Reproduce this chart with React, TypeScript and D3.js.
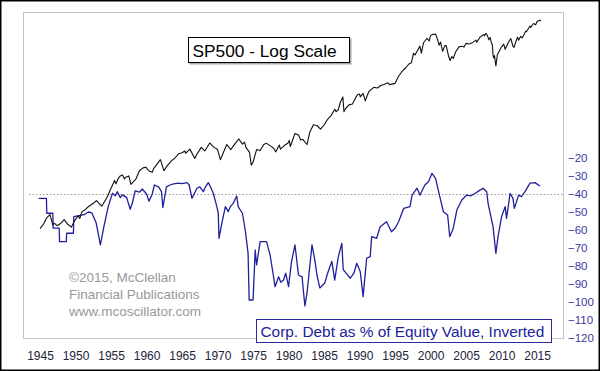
import React, { useEffect, useRef } from "react";
import * as d3 from "d3";

// S&P 500, approximate closes [year, index]
const spx: [number, number][] = [
  [1945.0, 13.5], [1945.5, 15.1], [1945.9, 17.4], [1946.4, 19.0], [1946.8, 14.8],
  [1947.0, 15.4], [1947.4, 14.5], [1947.9, 15.3], [1948.4, 16.8], [1948.9, 15.0],
  [1949.4, 14.0], [1949.9, 16.5], [1950.4, 18.5], [1950.6, 17.3], [1950.9, 20.4],
  [1951.4, 21.5], [1951.8, 23.0], [1952.5, 25.0], [1952.95, 26.6], [1953.7, 23.3],
  [1954.0, 25.5], [1954.5, 29.5], [1955.0, 35.9], [1955.5, 43.5], [1955.7, 40.0],
  [1956.0, 45.5], [1956.3, 48.5], [1956.6, 49.7], [1956.9, 45.0], [1957.0, 46.7],
  [1957.5, 48.5], [1957.8, 39.5], [1958.5, 45.0], [1959.0, 55.0], [1959.5, 59.0],
  [1959.9, 60.0], [1960.3, 55.0], [1960.8, 53.0], [1961.0, 58.0], [1961.5, 65.0],
  [1961.95, 72.0], [1962.45, 55.0], [1962.9, 62.0], [1963.5, 70.0], [1964.0, 75.0],
  [1964.5, 83.0], [1965.0, 85.0], [1965.4, 89.0], [1965.5, 84.0], [1966.1, 93.0],
  [1966.8, 74.0], [1967.0, 80.0], [1967.7, 97.0], [1968.2, 89.0], [1968.9, 108.0],
  [1969.5, 97.0], [1970.0, 92.0], [1970.4, 72.0], [1971.0, 92.0], [1971.3, 104.0],
  [1971.85, 92.0], [1972.5, 107.0], [1973.0, 119.0], [1973.5, 105.0], [1973.8, 110.0],
  [1974.0, 97.0], [1974.5, 86.0], [1974.75, 63.0], [1975.0, 68.0], [1975.5, 92.0],
  [1976.0, 90.0], [1976.5, 104.0], [1976.9, 107.0], [1977.5, 100.0], [1977.9, 95.0],
  [1978.2, 87.0], [1978.7, 103.0], [1978.85, 93.0], [1979.5, 103.0], [1979.9, 107.0],
  [1980.1, 115.0], [1980.25, 99.0], [1980.9, 136.0], [1981.4, 131.0], [1981.7, 116.0],
  [1982.0, 118.0], [1982.6, 104.0], [1983.0, 141.0], [1983.5, 168.0], [1984.0, 165.0],
  [1984.5, 151.0], [1985.0, 167.0], [1985.5, 192.0], [1986.0, 211.0], [1986.5, 245.0],
  [1986.7, 231.0], [1987.0, 242.0], [1987.3, 290.0], [1987.65, 330.0], [1987.8, 230.0],
  [1988.0, 247.0], [1988.5, 272.0], [1989.0, 278.0], [1989.5, 330.0], [1989.75, 350.0],
  [1990.0, 353.0], [1990.1, 330.0], [1990.5, 360.0], [1990.8, 300.0], [1991.0, 330.0],
  [1991.3, 375.0], [1992.0, 417.0], [1992.5, 410.0], [1993.0, 436.0], [1993.5, 450.0],
  [1994.0, 466.0], [1994.2, 445.0], [1995.0, 459.0], [1995.5, 545.0], [1996.0, 615.0],
  [1996.5, 670.0], [1997.0, 740.0], [1997.3, 757.0], [1997.6, 950.0], [1997.8, 914.0],
  [1998.0, 970.0], [1998.5, 1133.0], [1998.7, 957.0], [1999.0, 1229.0], [1999.5, 1372.0],
  [1999.8, 1282.0], [2000.0, 1469.0], [2000.2, 1498.0], [2000.7, 1520.0], [2001.0, 1320.0],
  [2001.2, 1160.0], [2001.4, 1250.0], [2001.7, 1000.0], [2002.0, 1148.0], [2002.2, 1147.0],
  [2002.55, 880.0], [2002.75, 800.0], [2003.0, 880.0], [2003.2, 840.0], [2003.5, 975.0],
  [2004.0, 1112.0], [2004.5, 1130.0], [2004.7, 1105.0], [2005.0, 1212.0], [2005.5, 1191.0],
  [2006.0, 1248.0], [2006.4, 1310.0], [2006.5, 1245.0], [2007.0, 1418.0], [2007.5, 1500.0],
  [2007.6, 1455.0], [2007.8, 1549.0], [2008.0, 1468.0], [2008.2, 1320.0], [2008.4, 1400.0],
  [2008.5, 1280.0], [2008.7, 1165.0], [2008.8, 900.0], [2008.9, 850.0], [2009.0, 900.0],
  [2009.2, 700.0], [2009.4, 920.0], [2010.0, 1115.0], [2010.3, 1187.0], [2010.5, 1050.0],
  [2011.0, 1258.0], [2011.3, 1360.0], [2011.6, 1130.0], [2011.75, 1100.0], [2012.0, 1258.0],
  [2012.25, 1408.0], [2012.4, 1310.0], [2012.7, 1440.0], [2012.9, 1380.0], [2013.0, 1426.0],
  [2013.4, 1630.0], [2013.5, 1606.0], [2014.0, 1848.0], [2014.1, 1780.0], [2014.5, 1960.0],
  [2014.8, 1900.0], [2015.0, 2059.0], [2015.35, 2120.0], [2015.55, 2085.0],
];

// corporate debt as % of equity value, inverted [year, value]
const debt: [number, number][] = [
  [1944.8, -42.4], [1945.9, -42.4], [1945.95, -50.7], [1946.8, -50.7], [1946.85, -59],
  [1947.7, -59], [1947.75, -66.5], [1948.7, -66.5], [1948.75, -61.8], [1949.7, -61.8],
  [1949.75, -52.6], [1950.5, -52], [1951.2, -51.5], [1951.8, -50], [1952.3, -50.5],
  [1952.9, -56], [1953.5, -68.3], [1954.0, -58], [1954.6, -47], [1955.2, -39.6],
  [1955.6, -41], [1955.9, -38.7], [1956.3, -42], [1956.6, -40.5], [1957.2, -42],
  [1957.7, -48.5], [1958.0, -45], [1958.4, -38.2], [1959.0, -39], [1959.4, -37.2],
  [1960.0, -40], [1960.35, -44], [1960.8, -40], [1961.1, -35], [1961.7, -36],
  [1962.1, -38.7], [1962.3, -47.5], [1962.8, -36], [1963.3, -35], [1963.8, -34.4],
  [1964.5, -34], [1965.0, -34.2], [1965.7, -33.7], [1966.0, -35], [1966.4, -42.4],
  [1966.7, -40], [1967.1, -36.8], [1967.5, -36], [1968.0, -38.7], [1968.3, -36],
  [1968.7, -33.7], [1969.0, -36], [1969.4, -39.6], [1969.9, -47], [1970.1, -50.7],
  [1970.2, -64.6], [1970.6, -56.3], [1971.1, -47], [1971.5, -49.8], [1971.8, -47],
  [1972.2, -45.2], [1972.7, -41.1], [1972.9, -47], [1973.5, -50.7], [1973.9, -60],
  [1974.3, -73], [1974.45, -98.9], [1975.0, -98.9], [1975.3, -71.1], [1975.5, -79.4],
  [1976.0, -66.5], [1976.9, -66.5], [1977.4, -73.9], [1978.1, -91.5], [1978.6, -86],
  [1978.9, -89], [1979.3, -87.8], [1979.6, -84], [1980.0, -91.5], [1980.4, -78],
  [1980.9, -68.3], [1981.4, -85], [1981.9, -86], [1982.3, -102.2], [1982.6, -95],
  [1983.3, -68.3], [1983.7, -76.7], [1984.0, -85], [1984.4, -92.2], [1985.1, -89.4],
  [1985.5, -84], [1986.1, -77.4], [1986.5, -87.8], [1987.0, -75], [1987.5, -67.4],
  [1987.7, -82], [1988.1, -84], [1988.7, -86.8], [1989.2, -84], [1989.6, -78.5],
  [1990.1, -83.2], [1990.5, -97], [1991.0, -75.7], [1991.5, -74.8], [1991.7, -63.7],
  [1992.4, -64.6], [1992.9, -58.2], [1993.3, -57], [1993.8, -55.4], [1994.5, -61],
  [1995.0, -59], [1995.5, -55.4], [1996.2, -48], [1997.1, -47], [1997.4, -40.6],
  [1998.1, -36.8], [1998.5, -40.6], [1999.2, -35], [1999.7, -33.2], [2000.2, -28.5],
  [2000.7, -31.3], [2001.3, -41.5], [2001.8, -49.8], [2002.4, -51.7], [2002.7, -63.7],
  [2003.2, -59], [2003.7, -48.9], [2004.4, -43.3], [2005.1, -40.6], [2005.7, -41],
  [2006.3, -39.6], [2006.9, -38], [2007.4, -36.8], [2007.9, -38.7], [2008.1, -45.2],
  [2008.8, -58.2], [2009.2, -73], [2009.5, -63.7], [2010.0, -52.6], [2010.5, -47],
  [2010.7, -53.5], [2011.2, -39.6], [2011.6, -42.4], [2011.8, -48], [2012.4, -40.6],
  [2012.8, -41.5], [2013.3, -38.7], [2014.0, -34], [2014.7, -33.7], [2015.4, -35.6],
];

const xTicks = [1945, 1950, 1955, 1960, 1965, 1970, 1975, 1980, 1985, 1990, 1995, 2000, 2005, 2010, 2015];
const yTicks = [-20, -30, -40, -50, -60, -70, -80, -90, -100, -110, -120];
const refLevel = -40;
const titleText = "SP500 - Log Scale";
const legendText = "Corp. Debt as % of Equity Value, Inverted";
const creditLines = ["\u00a92015, McClellan", "Financial Publications", "www.mcoscillator.com"];

const W = 600;
const H = 371;

const App = () => {
  const ref = useRef<SVGSVGElement>(null);

  useEffect(() => {
    const svg = d3.select(ref.current);
    svg.selectAll("*").remove();

    const left = 23, right = 563, top = 12, bottom = 338;
    const font = "Arial, 'Liberation Sans', sans-serif";

    const x = d3.scaleLinear().domain([1942.6, 2018.65]).range([left, right]);
    const yR = d3.scaleLinear().domain([-120, -20]).range([bottom, bottom - 180]);
    const yL = d3.scaleLog().domain([10, 3000]).range([241, 6]);

    svg.append("rect").attr("width", W).attr("height", H).attr("fill", "#fff");
    svg.append("rect")
      .attr("x", 0.5).attr("y", 0.5).attr("width", W - 1).attr("height", H - 1)
      .attr("fill", "none").attr("stroke", "#000").attr("stroke-width", 2);

    svg.append("rect")
      .attr("x", left + 0.5).attr("y", top + 0.5)
      .attr("width", right - left).attr("height", bottom - top)
      .attr("fill", "none").attr("stroke", "#c4c4c4");

    // reference dotted line
    svg.append("line")
      .attr("x1", left + 6).attr("x2", right)
      .attr("y1", Math.round(yR(refLevel)) + 0.5).attr("y2", Math.round(yR(refLevel)) + 0.5)
      .attr("stroke", "#999").attr("stroke-dasharray", "1.5,2");

    // right axis
    const ay = svg.append("g")
      .attr("transform", `translate(${right},0)`)
      .call(d3.axisRight(yR).tickValues(yTicks).tickSize(0).tickPadding(5).tickFormat(d3.format("d")));
    ay.select(".domain").remove();
    ay.selectAll("text")
      .attr("fill", "#3a3a9e")
      .attr("font-family", font)
      .attr("font-size", 11.5);

    // bottom axis
    const ax = svg.append("g")
      .attr("transform", `translate(0,${bottom})`)
      .call(d3.axisBottom(x).tickValues(xTicks).tickSize(0).tickPadding(13).tickFormat(d3.format("d")));
    ax.select(".domain").remove();
    ax.selectAll("text")
      .attr("fill", "#222238")
      .attr("font-family", font)
      .attr("font-size", 12);

    // debt line
    const debtLine = d3.line<[number, number]>().x(d => x(d[0])).y(d => yR(d[1]));
    svg.append("path")
      .datum(debt)
      .attr("d", debtLine)
      .attr("fill", "none")
      .attr("stroke", "#20209a")
      .attr("stroke-width", 1.3)
      .attr("stroke-linejoin", "round");

    // SP500 line
    const spLine = d3.line<[number, number]>().x(d => x(d[0])).y(d => yL(d[1]));
    svg.append("path")
      .datum(spx)
      .attr("d", spLine)
      .attr("fill", "none")
      .attr("stroke", "#111")
      .attr("stroke-width", 1.1)
      .attr("stroke-linejoin", "round");

    // title box
    const tb = svg.append("g");
    tb.append("rect")
      .attr("x", 189.5).attr("y", 38.5).attr("width", 162).attr("height", 26)
      .attr("fill", "#aaa");
    tb.append("rect")
      .attr("x", 188.5).attr("y", 37.5).attr("width", 161).attr("height", 25)
      .attr("fill", "#fff").attr("stroke", "#000");
    tb.append("text")
      .attr("x", 192.5).attr("y", 56.5)
      .attr("font-family", font).attr("font-size", 17.3)
      .attr("fill", "#000")
      .text(titleText);

    // legend box
    const lb = svg.append("g");
    lb.append("rect")
      .attr("x", 256.5).attr("y", 319.5).attr("width", 295).attr("height", 23)
      .attr("fill", "#fff").attr("stroke", "#2a2aa0");
    lb.append("text")
      .attr("x", 260.5).attr("y", 336.5)
      .attr("font-family", font).attr("font-size", 15.4)
      .attr("fill", "#22229a")
      .text(legendText);

    // credit text
    svg.append("g")
      .selectAll("text")
      .data(creditLines)
      .join("text")
      .attr("x", 69)
      .attr("y", (d, i) => 281.5 + i * 17)
      .attr("font-family", font)
      .attr("font-size", 13.5)
      .attr("fill", "#999")
      .text(d => d);
  }, []);

  return (
    <svg
      ref={ref}
      width={W}
      height={H}
      style={{ position: "absolute", left: 0, top: 0, display: "block" }}
    />
  );
};

export default App;
